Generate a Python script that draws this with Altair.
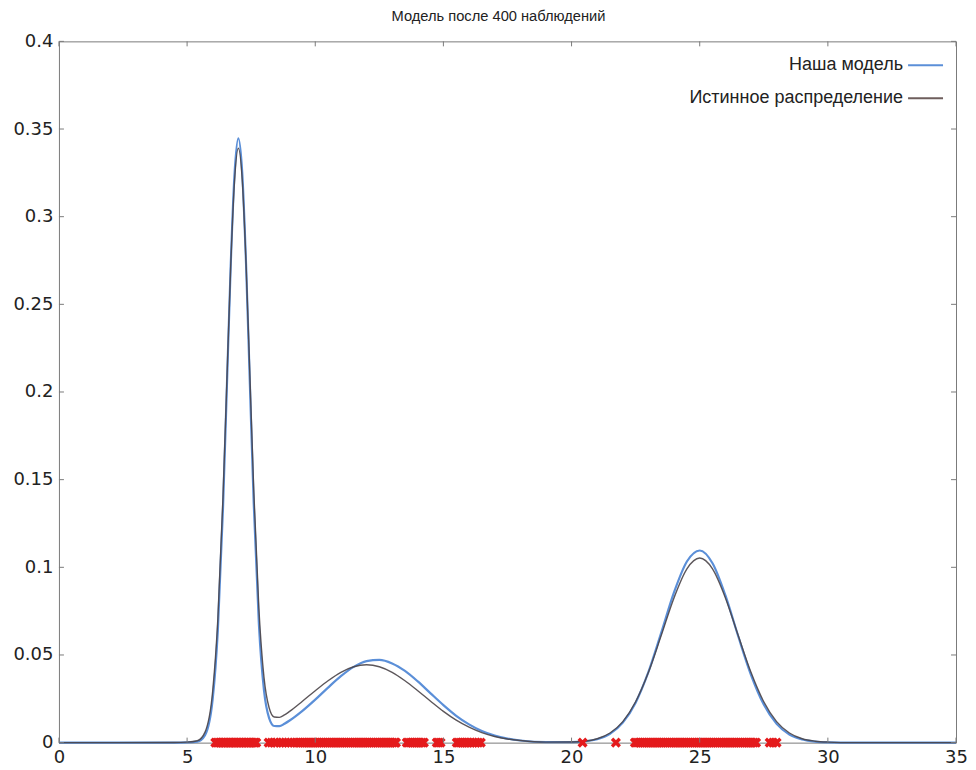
import altair as alt
import pandas as pd

# ---------------- data ----------------
title_text = "Модель после 400 наблюдений"
legend_labels = ["Наша модель", "Истинное распределение"]

x_ticks = [0, 5, 10, 15, 20, 25, 30, 35]
y_ticks = [0, 0.05, 0.1, 0.15, 0.2, 0.25, 0.3, 0.35, 0.4]

x_grid = [0.0, 4.5, 5.0, 5.4, 5.7, 6.0, 6.2, 6.4, 6.55, 6.7, 6.85, 7.0, 7.15, 7.3, 7.45,
          7.6, 7.8, 8.0, 8.2, 8.4, 8.6, 8.8, 9.0, 9.5, 10.0, 10.5, 11.0, 11.5, 12.0, 12.5,
          13.0, 13.5, 14.0, 14.5, 15.0, 15.5, 16.0, 16.5, 17.0, 17.5, 18.0, 19.0, 20.0, 20.5,
          21.0, 21.5, 22.0, 22.5, 23.0, 23.5, 24.0, 24.5, 25.0, 25.5, 26.0, 26.5, 27.0, 27.5,
          28.0, 28.5, 29.0, 29.5, 30.0, 31.0, 35.0]

true_density = [0, 0.0001, 0.0003, 0.0011, 0.006, 0.0296, 0.0706, 0.1398, 0.2055, 0.2712,
                0.3202, 0.339, 0.3213, 0.2733, 0.2092, 0.1441, 0.0765, 0.0372, 0.0199, 0.0146,
                0.0144, 0.0158, 0.0178, 0.0236, 0.0296, 0.0353, 0.0401, 0.0433, 0.0444, 0.0433,
                0.0401, 0.0353, 0.0296, 0.0236, 0.0178, 0.0128, 0.0088, 0.0057, 0.0035, 0.0021,
                0.0012, 0.0003, 0.0004, 0.0008, 0.0022, 0.0055, 0.012, 0.0233, 0.0401, 0.0612,
                0.0827, 0.0991, 0.1053, 0.0991, 0.0827, 0.0612, 0.0401, 0.0233, 0.012, 0.0055,
                0.0022, 0.0008, 0.0003, 0, 0]

model_density = [0, 0, 0.0001, 0.0006, 0.0043, 0.0251, 0.0642, 0.1336, 0.2020, 0.2715,
                 0.3242, 0.3447, 0.3253, 0.2731, 0.2041, 0.1363, 0.0679, 0.0298, 0.014, 0.0095,
                 0.0094, 0.0108, 0.0126, 0.0181, 0.0245, 0.0314, 0.0379, 0.0432, 0.0465, 0.0472,
                 0.0452, 0.0409, 0.0349, 0.0281, 0.0214, 0.0153, 0.0104, 0.0066, 0.004, 0.0023,
                 0.0012, 0.0003, 0.0003, 0.0007, 0.0019, 0.005, 0.0114, 0.0228, 0.0403, 0.0627,
                 0.0858, 0.1033, 0.1096, 0.1023, 0.0841, 0.0608, 0.0387, 0.0217, 0.0107, 0.0046,
                 0.0018, 0.0006, 0.0002, 0, 0]

observations = [
    6.10, 6.16, 6.23, 6.29, 6.36, 6.42, 6.49, 6.55, 6.62, 6.68, 6.74, 6.81, 6.87, 6.93,
    7.00, 7.06, 7.13, 7.19, 7.26, 7.32, 7.39, 7.45, 7.52, 7.58, 7.64, 7.70,
    8.18, 8.29, 8.41, 8.50, 8.62, 8.73, 8.84, 8.95, 9.06, 9.18, 9.27,
    9.35, 9.42, 9.50, 9.57, 9.65, 9.72, 9.80, 9.87, 9.95, 10.02, 10.10, 10.17, 10.25,
    10.32, 10.40, 10.47, 10.55, 10.62, 10.70, 10.77, 10.85, 10.92, 11.00, 11.07, 11.15,
    11.22, 11.30, 11.37, 11.45, 11.52, 11.60, 11.67, 11.75, 11.82, 11.90, 11.97, 12.05,
    12.12, 12.20, 12.27, 12.35, 12.42, 12.50, 12.57, 12.65, 12.72, 12.80, 12.87, 12.95,
    13.02, 13.10, 13.15,
    13.57, 13.64, 13.72, 13.79, 13.87, 13.94, 14.02, 14.09, 14.17, 14.24,
    14.74, 14.81, 14.89,
    15.52, 15.59, 15.67, 15.74, 15.82, 15.89, 15.97, 16.06, 16.16, 16.27, 16.36, 16.46,
    20.43, 21.73,
    22.47, 22.54, 22.62, 22.69, 22.77, 22.84, 22.92, 22.99, 23.07, 23.14, 23.22, 23.29,
    23.37, 23.44, 23.52, 23.59, 23.67, 23.74, 23.82, 23.89, 23.97, 24.04, 24.12, 24.19,
    24.27, 24.34, 24.42, 24.49, 24.57, 24.64, 24.72, 24.79, 24.87, 24.94, 25.02, 25.09,
    25.17, 25.24, 25.32, 25.39, 25.47, 25.54, 25.62, 25.69, 25.77, 25.84, 25.92, 25.99,
    26.07, 26.14, 26.22, 26.29, 26.37, 26.44, 26.52, 26.59, 26.67, 26.74, 26.82, 26.89,
    26.97, 27.04, 27.12, 27.20,
    27.73, 27.86, 28.00,
]

# ---------------- styling ----------------
W, H = 898, 702
BLUE = "#5b8fd8"
TRUE_COL = "#4a4448"
RED = "#e41a1c"
FRAME = "#7a7a7a"
TICK_FONT = "DejaVu Sans"
TEXT_FONT = "Liberation Sans"

xscale = alt.Scale(domain=[0, 35], nice=False, zero=False)
yscale = alt.Scale(domain=[0, 0.4], nice=False, zero=False)
xaxis = alt.Axis(values=x_ticks, title=None, labelFlush=False, labelOverlap=False,
                 labelPadding=6)
yaxis = alt.Axis(values=y_ticks, title=None, format="~g", labelOverlap=False,
                 labelPadding=6, labelFlush=False)

curves = pd.DataFrame({"x": x_grid, "true": true_density, "model": model_density})
obs_df = pd.DataFrame({"obs": observations})
xt_df = pd.DataFrame({"xt": x_ticks})
yt_df = pd.DataFrame({"yt": y_ticks})

model_line = alt.Chart(curves).mark_line(
    color=BLUE, strokeWidth=2.2, interpolate="monotone"
).encode(
    x=alt.X("x:Q", scale=xscale, axis=xaxis),
    y=alt.Y("model:Q", scale=yscale, axis=yaxis),
)

true_line = alt.Chart(curves).mark_line(
    color=TRUE_COL, strokeWidth=1.4, opacity=0.9, interpolate="monotone"
).encode(
    x=alt.X("x:Q", scale=xscale, axis=xaxis),
    y=alt.Y("true:Q", scale=yscale, axis=yaxis),
)

obs_points = alt.Chart(obs_df).mark_point(
    shape="M-1,-1L1,1M-1,1L1,-1", filled=False, color=RED, strokeWidth=3.4,
    size=60, opacity=1
).encode(
    x=alt.X("obs:Q", scale=xscale, axis=xaxis),
    y=alt.datum(0),
)

xt_bottom = alt.Chart(xt_df).mark_rule(color=FRAME, strokeWidth=1).encode(
    x=alt.X("xt:Q", scale=xscale, axis=xaxis), y=alt.value(H), y2=alt.value(H - 5)
)
xt_top = alt.Chart(xt_df).mark_rule(color=FRAME, strokeWidth=1).encode(
    x=alt.X("xt:Q", scale=xscale, axis=xaxis), y=alt.value(0), y2=alt.value(5)
)
yt_left = alt.Chart(yt_df).mark_rule(color=FRAME, strokeWidth=1).encode(
    y=alt.Y("yt:Q", scale=yscale, axis=yaxis), x=alt.value(0), x2=alt.value(5)
)
yt_right = alt.Chart(yt_df).mark_rule(color=FRAME, strokeWidth=1).encode(
    y=alt.Y("yt:Q", scale=yscale, axis=yaxis), x=alt.value(W), x2=alt.value(W - 5)
)

title_mark = alt.Chart(pd.DataFrame({"t": [title_text]})).mark_text(
    font=TEXT_FONT, fontSize=14.7, color="#222222", align="center", baseline="middle"
).encode(text="t:N", x=alt.value(440), y=alt.value(-24))

leg_text_1 = alt.Chart(pd.DataFrame({"label": [legend_labels[0]]})).mark_text(
    font=TEXT_FONT, fontSize=18, color="#222222", align="right", baseline="middle"
).encode(text="label:N", x=alt.value(845), y=alt.value(24))
leg_text_2 = alt.Chart(pd.DataFrame({"label": [legend_labels[1]]})).mark_text(
    font=TEXT_FONT, fontSize=18, color="#222222", align="right", baseline="middle"
).encode(text="label:N", x=alt.value(845), y=alt.value(57))
leg_line_1 = alt.Chart(pd.DataFrame({"label": [legend_labels[0]]})).mark_rule(
    color=BLUE, strokeWidth=2
).encode(x=alt.value(850), x2=alt.value(885), y=alt.value(24))
leg_line_2 = alt.Chart(pd.DataFrame({"label": [legend_labels[1]]})).mark_rule(
    color="#6e5e5c", strokeWidth=2
).encode(x=alt.value(850), x2=alt.value(885), y=alt.value(57))

chart = alt.layer(
    model_line, true_line, obs_points,
    xt_bottom, xt_top, yt_left, yt_right,
    title_mark, leg_text_1, leg_text_2, leg_line_1, leg_line_2,
).properties(
    width=W, height=H,
    padding={"left": 51, "top": 33, "right": 12, "bottom": 26},
    autosize=alt.AutoSizeParams(type="none"),
    background="white",
).configure_view(
    stroke=FRAME, strokeWidth=1
).configure_axis(
    domain=False, ticks=False, grid=False,
    labelFont=TICK_FONT, labelFontSize=18, labelColor="#222222",
)

chart.save("out.html", embed_options={"renderer": "svg", "actions": False})
